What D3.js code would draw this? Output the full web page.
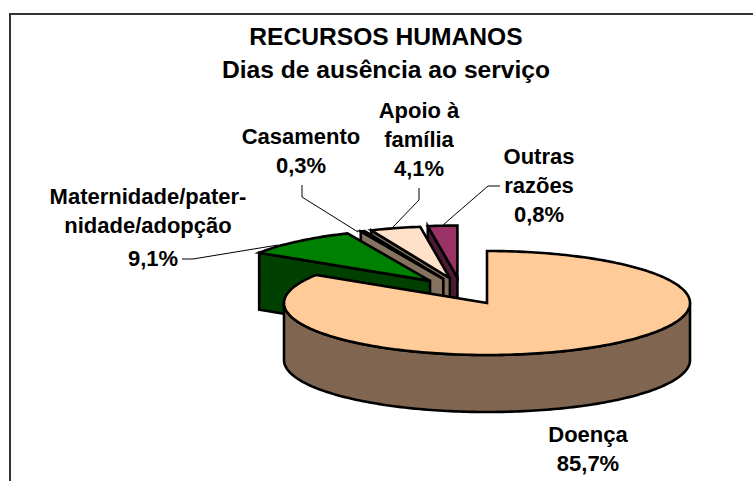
<!DOCTYPE html>
<html>
<head>
<meta charset="utf-8">
<script src="https://cdnjs.cloudflare.com/ajax/libs/d3/7.8.5/d3.min.js"></script>
<style>
  html, body { margin: 0; padding: 0; background: #fff; }
  svg { display: block; }
  text { font-family: "Liberation Sans", Arial, sans-serif; font-weight: bold; fill: #000; text-anchor: middle; }
</style>
</head>
<body>
<svg class="chart"></svg>
<script>
var categories = ["Doença", "Maternidade/paternidade/adopção", "Casamento", "Apoio à família", "Outras razões"];
var values = [85.7, 9.1, 0.3, 4.1, 0.8];
var valueLabels = ["85,7%", "9,1%", "0,3%", "4,1%", "0,8%"];
var titleLines = ["RECURSOS HUMANOS", "Dias de ausência ao serviço"];

var topColors = ["#ffcc99", "#008000", "#c9b8a6", "#ffe0c8", "#993366"];
var sideColors = ["#806650", "#004000", "#85735f", "#85735f", "#4d1a33"];

var width = 753, height = 481;
var cx = 487, cy = 303, rx = 203, ry = 52, depth = 57, explode = 0.51;

var svg = d3.select(".chart")
    .attr("width", width)
    .attr("height", height);

// chart frame, cut off by the picture on the right and bottom
svg.append("path")
    .attr("d", "M10," + height + "V14H" + width)
    .attr("fill", "none")
    .attr("stroke", "#333")
    .attr("stroke-width", 2);

var pie = d3.pie().sort(null).startAngle(0).endAngle(2 * Math.PI);
var arcs = pie(values);

// the 3d view bends the angles, small slices at the back come out wider
var viewAngle = d3.scaleLinear()
    .domain([0, arcs[0].endAngle, arcs[1].endAngle, arcs[2].endAngle, arcs[3].endAngle, 2 * Math.PI])
    .range([0, 302.7, 336, 337.2, 351.6, 360].map(function(d) { return d * Math.PI / 180; }));

// direction the pulled out slices move in, follows the slice middle
var midOf = function(d) { return (d.startAngle + d.endAngle) / 2; };
var explodeAngle = d3.scaleLinear()
    .domain([midOf(arcs[1]), midOf(arcs[4])])
    .range([-33.4, -16.6].map(function(d) { return d * Math.PI / 180; }));

var line = d3.line();

function rim(a, ox, oy) {
  return [ox + rx * Math.sin(a), oy - ry * Math.cos(a)];
}

function rimPoints(a0, a1, ox, oy) {
  var n = Math.max(2, Math.ceil((a1 - a0) / 0.02));
  return d3.range(n + 1).map(function(i) { return rim(a0 + (a1 - a0) * i / n, ox, oy); });
}

// far slices first, so near ones cover them
d3.range(arcs.length - 1, -1, -1).forEach(function(i) {
  var d = arcs[i],
      a0 = viewAngle(d.startAngle),
      a1 = viewAngle(d.endAngle),
      ox = cx, oy = cy;

  if (i > 0) {
    var e = explodeAngle(midOf(d));
    ox = cx + explode * rx * Math.sin(e);
    oy = cy - explode * ry * Math.cos(e);
  }

  var g = svg.append("g").attr("class", "slice");

  if (i === 0) {
    // round wall at the front
    var frontTop = rimPoints(Math.PI / 2, 3 * Math.PI / 2, ox, oy);
    var frontBottom = frontTop.map(function(p) { return [p[0], p[1] + depth]; }).reverse();
    g.append("path")
        .attr("d", line(frontTop.concat(frontBottom)) + "Z")
        .attr("fill", sideColors[i]);
  } else {
    // cut face on the start side
    var s = rim(a0, ox, oy);
    g.append("path")
        .attr("d", line([s, [ox, oy], [ox, oy + depth], [s[0], s[1] + depth]]) + "Z")
        .attr("fill", sideColors[i]);
  }

  g.append("path")
      .attr("d", line([[ox, oy]].concat(rimPoints(a0, a1, ox, oy))) + "Z")
      .attr("fill", topColors[i]);

  g.selectAll("path")
      .attr("stroke", "#000")
      .attr("stroke-width", 2.6)
      .attr("stroke-linejoin", "miter");
});

// title
svg.selectAll(".title")
    .data(titleLines)
  .enter().append("text")
    .attr("class", "title")
    .attr("x", 386)
    .attr("y", function(d, i) { return 45 + i * 33; })
    .style("font-size", "24.6px")
    .text(function(d) { return d; });

// labels, broken the way the picture breaks them
var labelLines = [
  [categories[0], valueLabels[0]],
  ["Maternidade/pater-", "nidade/adopção", valueLabels[1]],
  [categories[2], valueLabels[2]],
  ["Apoio à", "família", valueLabels[3]],
  ["Outras", "razões", valueLabels[4]]
];
var labelX = [[588, 588], [148, 148, 153], [301, 301], [419, 419, 419], [539, 539, 539]];
var labelY = [[442, 471], [204, 233, 266], [144, 173], [118, 147, 176], [164, 193, 222]];

labelLines.forEach(function(lines, i) {
  svg.append("g").attr("class", "label").selectAll("text")
      .data(lines)
    .enter().append("text")
      .attr("x", function(d, j) { return labelX[i][j]; })
      .attr("y", function(d, j) { return labelY[i][j]; })
      .style("font-size", "22px")
      .text(function(d) { return d; });
});

// leader lines
var leaders = [
  [[182, 259], [193, 259], [278, 245]],
  [[302, 185], [302, 197], [358, 232]],
  [[419, 188], [419, 200], [393, 227]],
  [[500, 186], [488, 186], [443, 225]]
];

svg.selectAll(".leader")
    .data(leaders)
  .enter().append("path")
    .attr("class", "leader")
    .attr("d", line)
    .attr("fill", "none")
    .attr("stroke", "#000")
    .attr("stroke-width", 1);
</script>
</body>
</html>
